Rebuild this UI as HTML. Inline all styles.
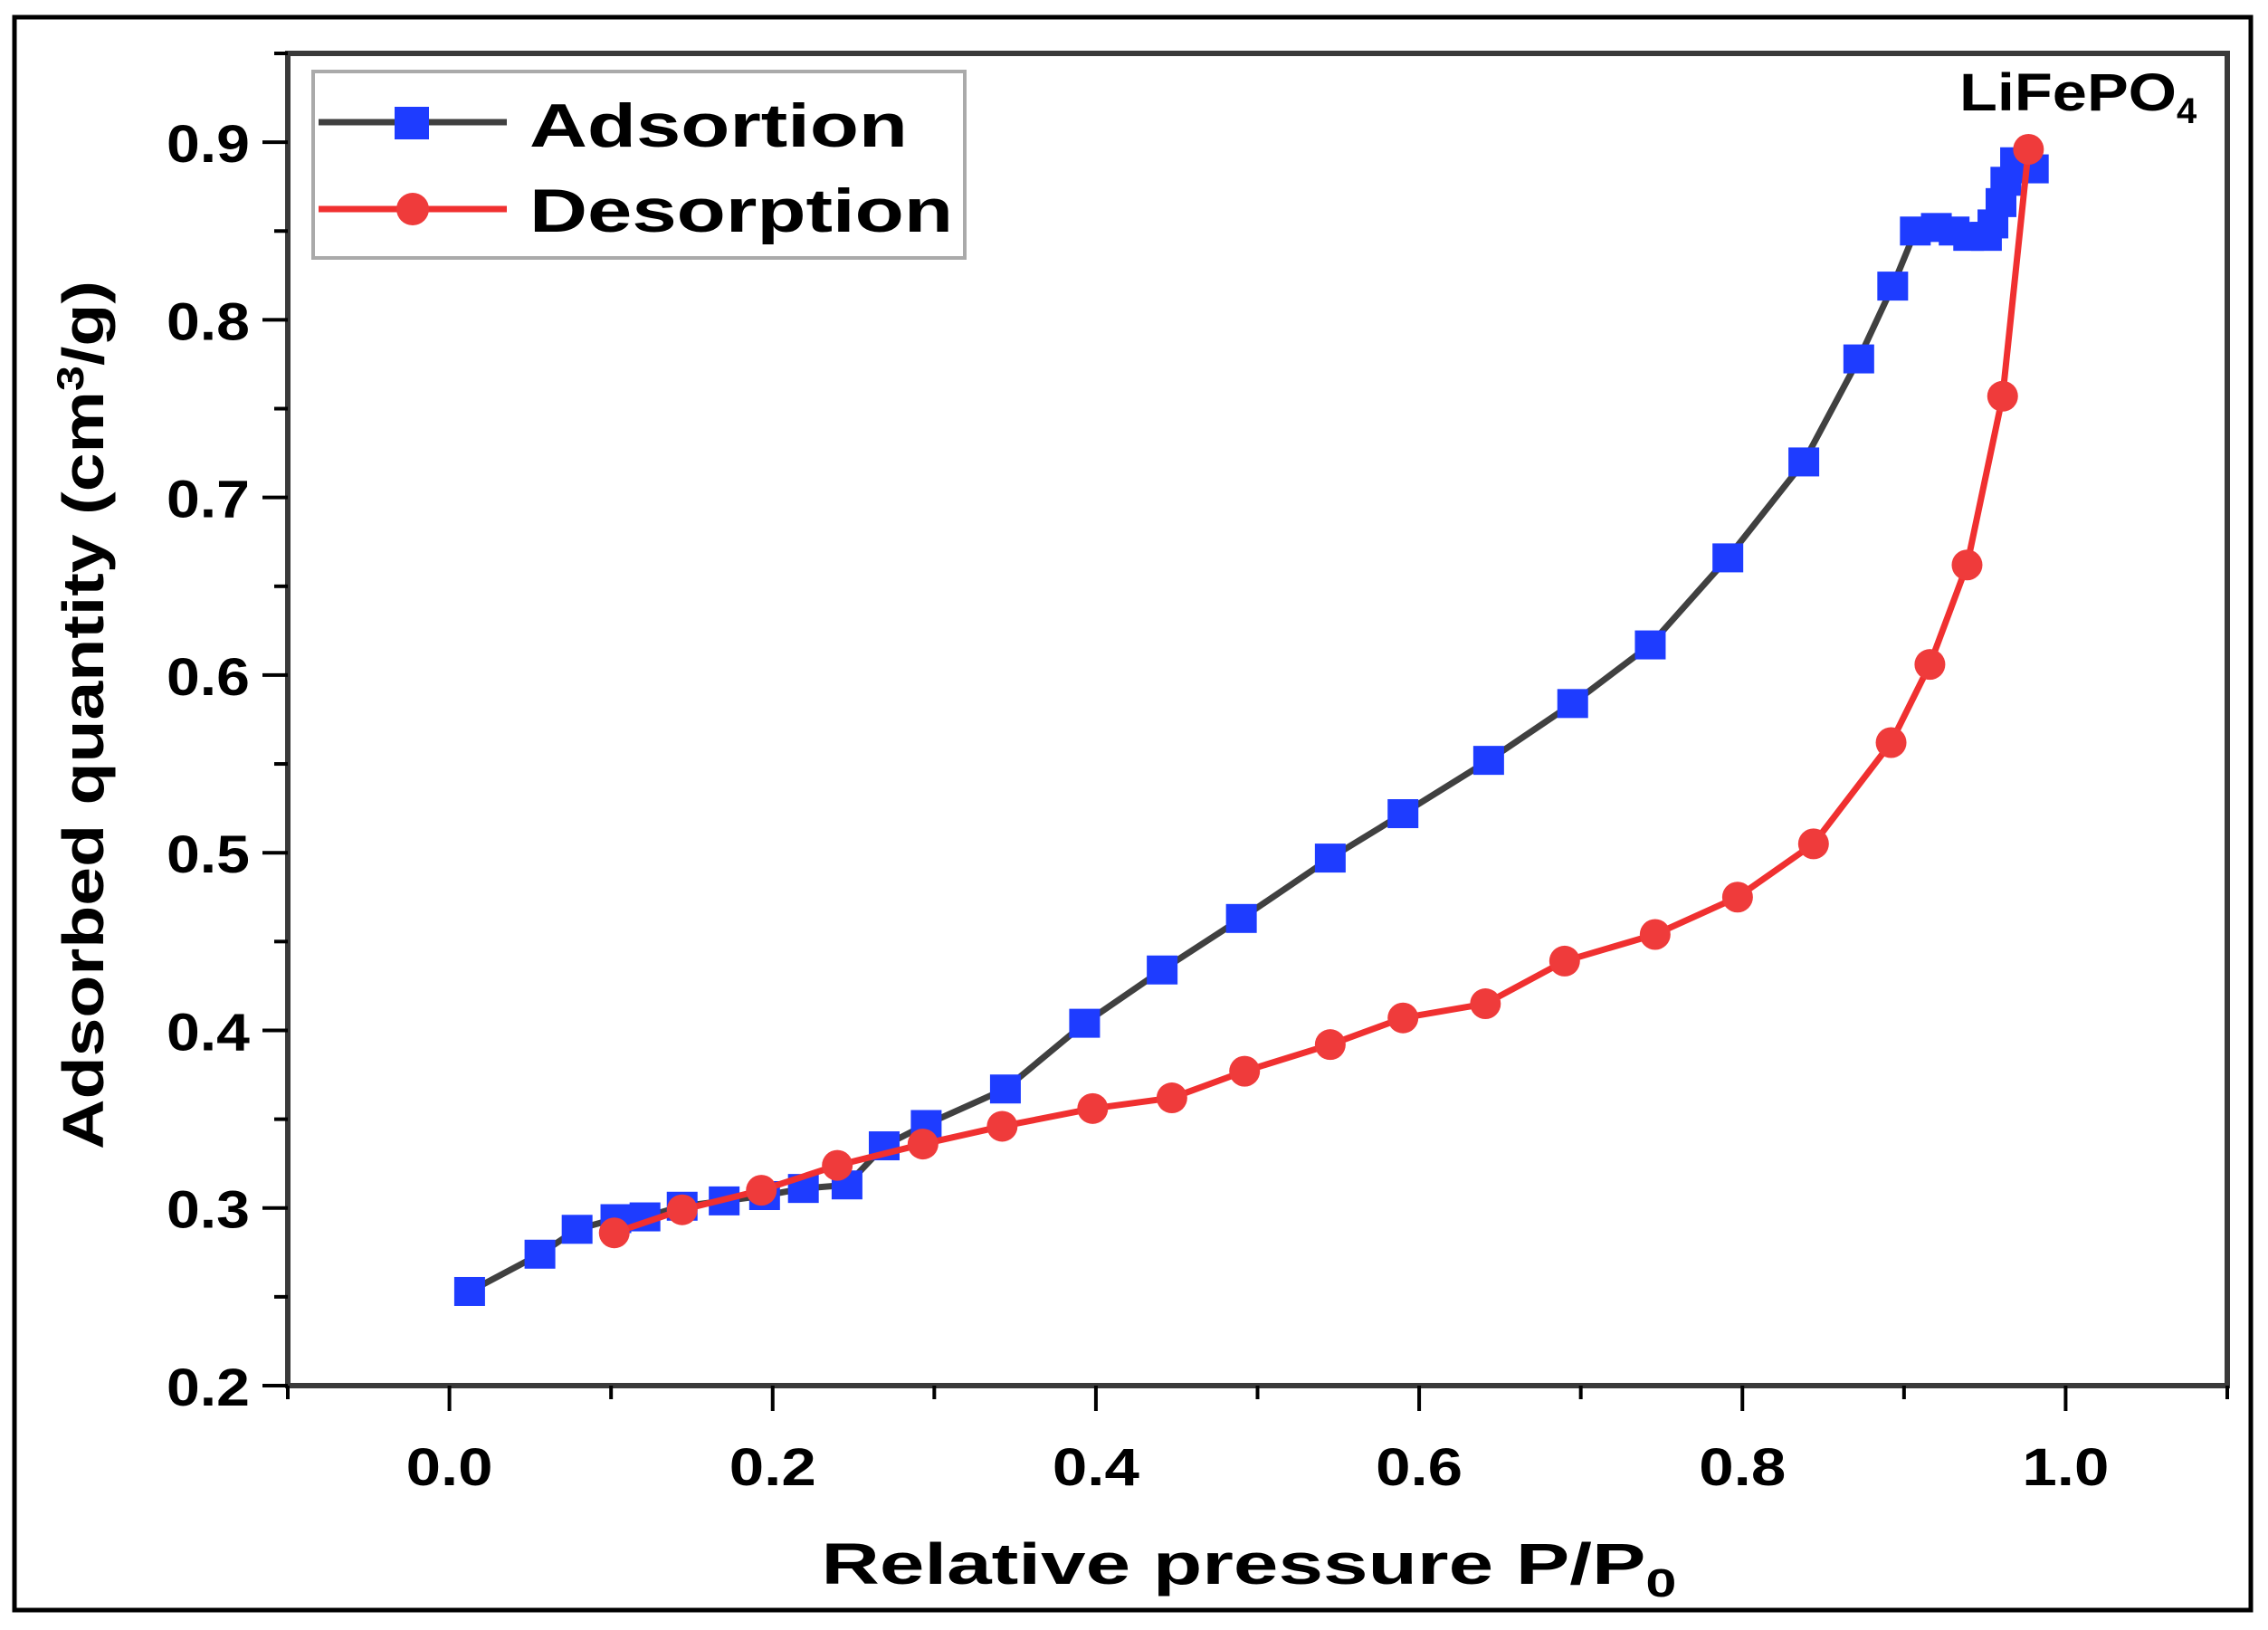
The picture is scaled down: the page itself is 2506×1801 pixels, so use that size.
<!DOCTYPE html>
<html><head><meta charset="utf-8"><style>
html,body{margin:0;padding:0;background:#fff;}
svg{display:block;}
text{font-family:"Liberation Sans",Arial,sans-serif;font-weight:bold;fill:#000;}
</style></head><body>
<svg id="chart" width="2506" height="1801" viewBox="0 0 2506 1801" xmlns="http://www.w3.org/2000/svg">
<rect x="16" y="19" width="2471" height="1760" fill="none" stroke="#000" stroke-width="5"/>
<g id="axes"></g>
<g id="series"></g>
<g>
<rect x="346" y="79" width="720" height="206" fill="#fff" stroke="#aaa" stroke-width="4"/>
<g>
<line x1="352" y1="135" x2="560" y2="135" stroke="#404040" stroke-width="7"/>
<rect x="436" y="118" width="38" height="36" fill="#1e3cff"/>
<text x="585" y="162" font-size="68" textLength="418" lengthAdjust="spacingAndGlyphs">Adsortion</text>
</g>
<g>
<line x1="352" y1="231" x2="560" y2="231" stroke="#f03030" stroke-width="7"/>
<circle cx="456" cy="231" r="18" fill="#ef3b3b"/>
<text x="585" y="256" font-size="68" textLength="468" lengthAdjust="spacingAndGlyphs">Desorption</text>
</g>
</g>
<text x="2165" y="122" font-size="58"><tspan textLength="240" lengthAdjust="spacingAndGlyphs">LiFePO</tspan><tspan font-size="40" dy="14">4</tspan></text>
<text x="1380" y="1750" font-size="64" text-anchor="middle" textLength="945" lengthAdjust="spacingAndGlyphs">Relative pressure P/P<tspan font-size="44" dy="14">0</tspan></text>
<text transform="translate(114,790) rotate(-90)" font-size="64" text-anchor="middle" textLength="960" lengthAdjust="spacingAndGlyphs">Adsorbed quantity (cm<tspan font-size="42" dy="-22">3</tspan><tspan dy="22">/g)</tspan></text>
</svg>
<script>
const adsX=[0.0125,0.056,0.079,0.103,0.121,0.144,0.170,0.195,0.219,0.246,0.269,0.295,0.344,0.393,0.441,0.490,0.545,0.590,0.643,0.695,0.743,0.791,0.838,0.872,0.893,0.907,0.920,0.931,0.940,0.951,0.955,0.960,0.963,0.969,0.980];
const adsY=[0.253,0.274,0.288,0.294,0.295,0.301,0.304,0.307,0.311,0.313,0.335,0.347,0.367,0.404,0.434,0.463,0.497,0.522,0.552,0.584,0.617,0.666,0.720,0.778,0.819,0.850,0.852,0.850,0.847,0.847,0.854,0.866,0.878,0.889,0.885];
const desX=[0.977,0.961,0.939,0.916,0.892,0.844,0.797,0.746,0.690,0.641,0.590,0.545,0.492,0.447,0.398,0.342,0.293,0.240,0.193,0.144,0.102];
const desY=[0.896,0.757,0.662,0.606,0.562,0.505,0.475,0.454,0.439,0.415,0.407,0.392,0.377,0.362,0.356,0.346,0.336,0.324,0.310,0.299,0.286];
const xTicks=[0.0,0.2,0.4,0.6,0.8,1.0];
const xTickLabels=["0.0","0.2","0.4","0.6","0.8","1.0"];
const yTicks=[0.2,0.3,0.4,0.5,0.6,0.7,0.8,0.9];
const yTickLabels=["0.2","0.3","0.4","0.5","0.6","0.7","0.8","0.9"];

const NS="http://www.w3.org/2000/svg";
const L=318,R=2461,T=59,B=1531;
const xMin=-0.1,xMax=1.1,yMin=0.2,yMax=0.95;
function sx(v){return L+(v-xMin)/(xMax-xMin)*(R-L);}
function sy(v){return B-(v-yMin)/(yMax-yMin)*(B-T);}
function mk(tag,attrs,parent){const e=document.createElementNS(NS,tag);for(const k in attrs)e.setAttribute(k,attrs[k]);parent.appendChild(e);return e;}
const axes=document.getElementById('axes');
const series=document.getElementById('series');
const fr=mk('rect',{x:L,y:T,width:R-L,height:B-T,fill:'none',stroke:'#3a3a3a','stroke-width':6},axes);


for(let v=-0.1;v<=1.1001;v+=0.1){
  const major=Math.abs(Math.round(v*10)%2)===0;
  const t=mk('line',{x1:sx(v),x2:sx(v),y1:B,y2:B+(major?28:15),stroke:'#000','stroke-width':4},axes);
  
  
}
xTicks.forEach((v,i)=>{
  const t=mk('text',{x:sx(v),y:B+110,'font-size':58,'text-anchor':'middle',textLength:96,lengthAdjust:'spacingAndGlyphs'},axes);
  t.textContent=xTickLabels[i];
  
  
});
for(let v=0.2;v<=0.9501;v+=0.05){
  const major=Math.abs(Math.round(v*100)%10)===0;
  const t=mk('line',{x1:L-(major?28:15),x2:L,y1:sy(v),y2:sy(v),stroke:'#000','stroke-width':4},axes);
  
  
}
yTicks.forEach((v,i)=>{
  const t=mk('text',{x:L-42,y:sy(v)+22,'font-size':58,'text-anchor':'end',textLength:92,lengthAdjust:'spacingAndGlyphs'},axes);
  t.textContent=yTickLabels[i];
  
  
});
const ap=mk('polyline',{points:adsX.map((x,i)=>sx(x)+','+sy(adsY[i])).join(' '),fill:'none',stroke:'#404040','stroke-width':7,'stroke-linejoin':'round'},series);


adsX.forEach((x,i)=>{
  const r=mk('rect',{x:sx(x)-17,y:sy(adsY[i])-16,width:34,height:32,fill:'#1e3cff'},series);
  
  
});
const dp=mk('polyline',{points:desX.map((x,i)=>sx(x)+','+sy(desY[i])).join(' '),fill:'none',stroke:'#f03030','stroke-width':7,'stroke-linejoin':'round'},series);


desX.forEach((x,i)=>{
  const c=mk('circle',{cx:sx(x),cy:sy(desY[i]),r:17,fill:'#ef3b3b'},series);
  
  
});
</script>
</body></html>
